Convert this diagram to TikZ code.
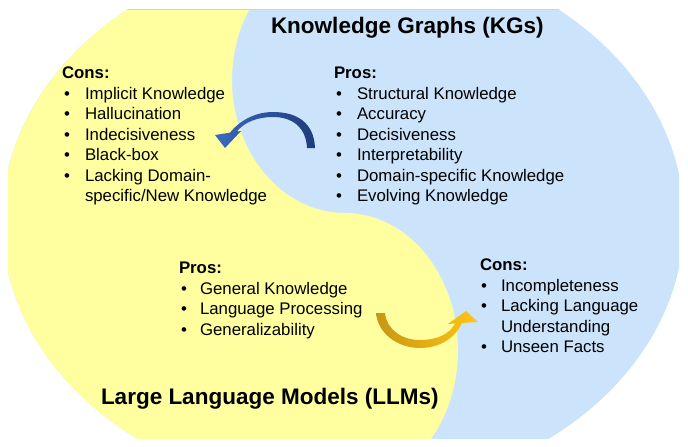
\documentclass[tikz,border=0pt]{standalone}
\usepackage{fontspec}
\setmainfont{Liberation Sans}
\definecolor{llmyellow}{RGB}{255,255,160}
\definecolor{kgblue}{RGB}{204,228,251}
\definecolor{arrowlight}{RGB}{135,168,225}
\definecolor{arrowmid}{RGB}{58,105,192}
\definecolor{arrowdark}{RGB}{30,60,125}
\definecolor{golddark}{RGB}{180,135,30}
\definecolor{goldmid}{RGB}{200,150,20}
\definecolor{goldbright}{RGB}{255,198,20}
\begin{document}
\begin{tikzpicture}[x=1pt,y=-1pt,
  txt/.style={anchor=base west, inner sep=0pt, outer sep=0pt, font=\fontsize{16.8}{20.4}\selectfont},
  hd/.style={anchor=base west, inner sep=0pt, outer sep=0pt, font=\fontsize{16.8}{20.4}\selectfont\bfseries},
  ttl/.style={anchor=base west, inner sep=0pt, outer sep=0pt, font=\fontsize{22.5}{27}\selectfont\bfseries}]
\useasboundingbox (0,0) rectangle (688,447);
\fill[white] (0,0) rectangle (688,447);
% background yin-yang shape
\begin{scope}
  \clip (8,9) rectangle (679,438);
  \clip (343,221) ellipse [x radius=341, y radius=273];
  \fill[kgblue] (0,0) rectangle (688,447);
  \fill[llmyellow] (345,-53) arc[start angle=270, end angle=90, x radius=113, y radius=133]
        arc[start angle=-90, end angle=90, x radius=113, y radius=137]
        -- (-20,487) -- (-20,-53) -- cycle;
  \draw[gray!35, line width=1pt] (0,9.5) -- (688,9.5);
\end{scope}
% blue curved arrow (KG -> LLM)
\shade[left color=arrowmid, middle color=arrowlight, right color=arrowdark]
  (315,148) .. controls (314,122) and (296,112) .. (273,112)
  .. controls (256,112) and (240,120) .. (230,132.7)
  -- (215,135) -- (225,148) -- (241,131) -- (237,131.6)
  .. controls (244,122) and (258,117) .. (273,117)
  .. controls (292,117) and (306,127) .. (307,148) -- cycle;
% gold curved arrow (LLM -> KG)
\shade[left color=goldmid, middle color=golddark, right color=goldbright]
  (376,313) .. controls (378,334) and (398,348) .. (420,348)
  .. controls (440,348) and (455,338) .. (462,322.9)
  -- (478,322) -- (466,311) -- (448,324) -- (455,323.4)
  .. controls (450,334) and (437,340) .. (420,340)
  .. controls (402,340) and (387,330) .. (385,313) -- cycle;
% titles
\node[ttl] (kgtitle) at (271,33) {Knowledge Graphs (KGs)};
\node[ttl] (llmtitle) at (101,404) {Large Language Models (LLMs)};
% LLM cons (top left)
\node[hd] (lch) at (62,78.3) {Cons:};
\node[txt] (lcb1) at (64,99.3) {•}; \node[txt] (lc1) at (85,99.3) {Implicit Knowledge};
\node[txt] (lcb2) at (64,119.8) {•}; \node[txt] (lc2) at (85,119.8) {Hallucination};
\node[txt] (lcb3) at (64,140.3) {•}; \node[txt] (lc3) at (85,140.3) {Indecisiveness};
\node[txt] (lcb4) at (64,160.8) {•}; \node[txt] (lc4) at (85,160.8) {Black-box};
\node[txt] (lcb5) at (64,181.3) {•}; \node[txt] (lc5) at (85,181.3) {Lacking Domain-};
\node[txt] (lc6) at (85,201.8) {specific/New Knowledge};
% KG pros (top right)
\node[hd] (kph) at (334,78.3) {Pros:};
\node[txt] (kpb1) at (336,99.3) {•}; \node[txt] (kp1) at (357,99.3) {Structural Knowledge};
\node[txt] (kpb2) at (336,119.8) {•}; \node[txt] (kp2) at (357,119.8) {Accuracy};
\node[txt] (kpb3) at (336,140.3) {•}; \node[txt] (kp3) at (357,140.3) {Decisiveness};
\node[txt] (kpb4) at (336,160.8) {•}; \node[txt] (kp4) at (357,160.8) {Interpretability};
\node[txt] (kpb5) at (336,181.3) {•}; \node[txt] (kp5) at (357,181.3) {Domain-specific Knowledge};
\node[txt] (kpb6) at (336,201.8) {•}; \node[txt] (kp6) at (357,201.8) {Evolving Knowledge};
% LLM pros (bottom left)
\node[hd] (lph) at (179,273.3) {Pros:};
\node[txt] (lpb1) at (181,294) {•}; \node[txt] (lp1) at (200,294) {General Knowledge};
\node[txt] (lpb2) at (181,314.5) {•}; \node[txt] (lp2) at (200,314.5) {Language Processing};
\node[txt] (lpb3) at (181,335) {•}; \node[txt] (lp3) at (200,335) {Generalizability};
% KG cons (bottom right)
\node[hd] (kch) at (480,270.7) {Cons:};
\node[txt] (kcb1) at (481,291) {•}; \node[txt] (kc1) at (501,291) {Incompleteness};
\node[txt] (kcb2) at (481,311.5) {•}; \node[txt] (kc2) at (501,311.5) {Lacking Language};
\node[txt] (kc3) at (501,332) {Understanding};
\node[txt] (kcb4) at (481,352.5) {•}; \node[txt] (kc4) at (501,352.5) {Unseen Facts};
\end{tikzpicture}
\end{document}
